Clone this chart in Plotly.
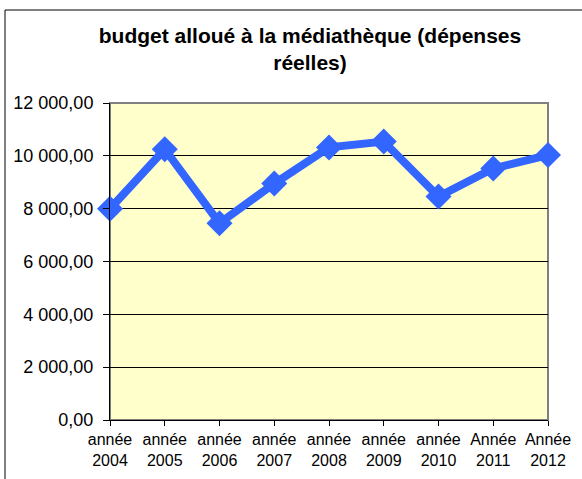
import plotly.graph_objects as go

categories = ["année<br>2004", "année<br>2005", "année<br>2006", "année<br>2007", "année<br>2008",
              "année<br>2009", "année<br>2010", "Année<br>2011", "Année<br>2012"]
budget = [8000, 10250, 7450, 8950, 10320, 10540, 8460, 9520, 10030]
y_tickvals = [0, 2000, 4000, 6000, 8000, 10000, 12000]
y_ticktext = ["0,00", "2 000,00", "4 000,00", "6 000,00", "8 000,00", "10 000,00", "12 000,00"]

W, H = 582, 479
L, R, T, B = 110, 548, 103, 420

x_idx = list(range(len(categories)))

fig = go.Figure()
fig.add_trace(go.Scatter(
    x=x_idx, y=budget, mode="lines+markers",
    line=dict(color="#3366FF", width=8),
    marker=dict(symbol="diamond", size=20, color="#3366FF"),
    cliponaxis=False, showlegend=False, hoverinfo="skip",
))

font = "Arial, 'Liberation Sans', sans-serif"

def px_x(p):
    return (p - L) / (R - L)

def px_y(p):
    return (B - p) / (B - T)

# chart area border (cropped by the image)
fig.add_shape(type="rect", xref="paper", yref="paper",
              x0=px_x(5), x1=px_x(640), y0=px_y(540), y1=px_y(10),
              line=dict(color="black", width=1), fillcolor="rgba(0,0,0,0)", layer="below")
# plot area border
fig.add_shape(type="rect", xref="paper", yref="paper",
              x0=0, x1=1, y0=0, y1=1,
              line=dict(color="#808080", width=2), fillcolor="rgba(0,0,0,0)", layer="below")

fig.update_layout(
    width=W, height=H,
    margin=dict(l=L, r=W - R, t=T, b=H - B, pad=0, autoexpand=False),
    paper_bgcolor="white", plot_bgcolor="#FFFFCC",
    font=dict(family=font, size=17, color="black"),
    title=dict(text="<b>budget alloué à la médiathèque (dépenses<br>réelles)</b>",
               x=310 / W, xanchor="center", xref="container",
               y=1 - 43 / H, yanchor="middle", yref="container",
               font=dict(size=21, family=font, color="black")),
    xaxis=dict(range=[0, len(categories) - 1], tickvals=x_idx, ticktext=categories,
               showgrid=False, zeroline=False, showline=True, linecolor="black", linewidth=1,
               ticks="outside", ticklen=5, tickcolor="black", automargin=False,
               tickfont=dict(size=16, family=font)),
    yaxis=dict(range=[0, 12000], tickvals=y_tickvals, ticktext=y_ticktext,
               showgrid=True, gridcolor="black", gridwidth=1, zeroline=False,
               showline=True, linecolor="black", linewidth=1,
               ticks="outside", ticklen=6, tickcolor="black", automargin=False,
               ticklabelstandoff=6,
               tickfont=dict(size=18, family=font)),
)

fig.write_html("out.html", config={"displayModeBar": False},
               post_script="document.body.style.margin='0';")
